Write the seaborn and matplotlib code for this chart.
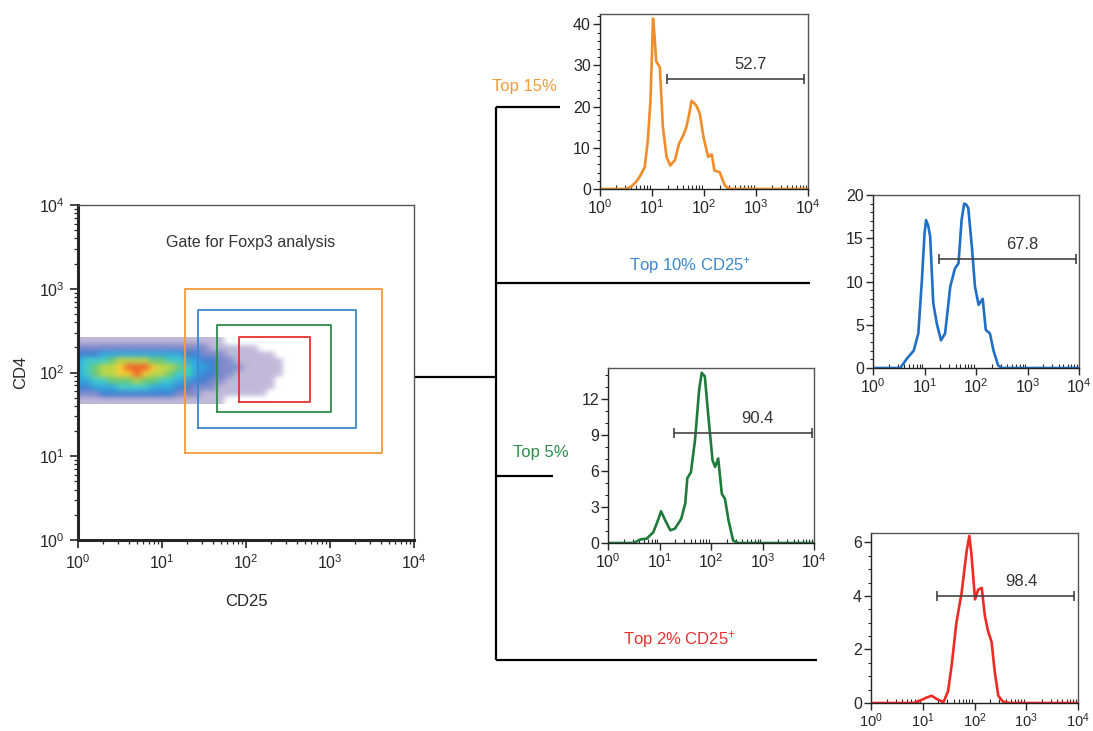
import numpy as np
import matplotlib
matplotlib.use("Agg")
import matplotlib.pyplot as plt
from matplotlib.ticker import LogLocator, AutoMinorLocator, NullFormatter
import seaborn as sns

# --- dot plot (CD25 vs CD4), density levels ---
# rows go from top (log10 CD4 = 2.40) to bottom (1.64), columns log10 CD25 = 0.0 .. 2.5
dot_x_range = (-0.05, 2.55)
dot_y_range = (1.62, 2.42)
dot_density = [
    "11111111111111111100000000",
    "22222222222222221111110000",
    "33344444444443322211111100",
    "45556777766554433221111110",
    "45677899987765443222111110",
    "45677889877655433221111110",
    "44556667665544332211111100",
    "33444555544433222111111100",
    "22233333333322211111111000",
    "11111111111111111100000000",
]

# gates drawn on the dot plot
gate_colors = ["#F39A3C", "#3A86CF", "#2E8B4A", "#E8312F"]
gate_x0 = [19, 27, 45, 82]
gate_x1 = [4200, 2050, 1030, 580]
gate_y0 = [11, 22, 34, 45]
gate_y1 = [1000, 560, 370, 262]

# --- Foxp3 histograms (x in log10 units, y in cell counts) ---
orange_x = [0.0, 0.5, 0.6, 0.7, 0.76, 0.86, 0.92, 0.97, 1.0, 1.02, 1.05, 1.08, 1.15, 1.21, 1.28, 1.35,
            1.44, 1.52, 1.6, 1.66, 1.72, 1.76, 1.8, 1.85, 1.92, 1.99, 2.08, 2.15, 2.2, 2.3, 2.4, 2.46,
            2.55, 4.0]
orange_y = [0, 0, 0.6, 1.8, 2.9, 5.3, 11.8, 21.5, 33, 41.4, 37, 31, 29.6, 15, 7.8, 5.7,
            7, 11, 13, 15, 18.5, 21.4, 21, 20.3, 18.3, 12.6, 7.8, 8.4, 4.5, 4.1, 0.9, 0.2,
            0, 0]

blue_x = [0.0, 0.53, 0.66, 0.79, 0.88, 0.95, 1.0, 1.03, 1.07, 1.11, 1.17, 1.24, 1.32, 1.4, 1.5,
          1.59, 1.66, 1.72, 1.77, 1.81, 1.85, 1.92, 1.98, 2.05, 2.13, 2.19, 2.27, 2.34, 2.43, 2.5, 4.0]
blue_y = [0, 0, 1.1, 2, 4, 10.2, 15.5, 17.1, 16.5, 15.2, 7.5, 5.1, 3.2, 4, 9.4,
          11.5, 12.1, 17.1, 19, 18.9, 18.5, 14, 9.4, 7.3, 8, 4.4, 4, 2, 0.3, 0, 0]

green_x = [0.0, 0.5, 0.63, 0.75, 0.88, 0.97, 1.03, 1.11, 1.21, 1.3, 1.42, 1.5, 1.54, 1.61,
           1.69, 1.77, 1.82, 1.88, 1.95, 2.03, 2.08, 2.14, 2.21, 2.27, 2.34, 2.43, 2.53, 4.0]
green_y = [0, 0, 0.3, 0.36, 0.9, 1.9, 2.65, 1.9, 1.06, 1.2, 2, 3.3, 5.4, 5.9,
           8.6, 12.8, 14.2, 13.9, 10.5, 6.9, 6.35, 7.05, 4.1, 3.7, 1.9, 0.2, 0, 0]

red_x = [0.0, 0.82, 0.95, 1.07, 1.17, 1.27, 1.4, 1.49, 1.56, 1.65, 1.75, 1.85, 1.9, 1.94,
         2.01, 2.07, 2.14, 2.2, 2.26, 2.33, 2.39, 2.46, 2.55, 2.68, 4.0]
red_y = [0, 0, 0.09, 0.2, 0.27, 0.15, 0.03, 0.45, 1.43, 3.0, 4.1, 5.7, 6.24, 5.57,
         3.87, 4.23, 4.3, 3.26, 2.7, 2.28, 1.18, 0.27, 0.05, 0, 0]

# percentage brackets and y axes of each histogram
hist_labels = ["52.7", "67.8", "90.4", "98.4"]
bracket_x0 = [19.5, 19.5, 19.5, 19]
bracket_x1 = [8300, 8700, 9100, 8300]
bracket_y = [26.7, 12.6, 9.2, 3.99]
hist_ymax = [42.5, 20, 14.6, 6.35]
hist_yticks = [[0, 10, 20, 30, 40], [0, 5, 10, 15, 20], [0, 3, 6, 9, 12], [0, 2, 4, 6]]
hist_minor = [5, 5, 3, 4]

sns.set_theme(style="ticks")
plt.rcParams["font.family"] = ["Liberation Sans", "DejaVu Sans"]
plt.rcParams["mathtext.fontset"] = "custom"
plt.rcParams["mathtext.rm"] = "Liberation Sans"
plt.rcParams["mathtext.it"] = "Liberation Sans:italic"
plt.rcParams["mathtext.bf"] = "Liberation Sans:bold"

fig = plt.figure(figsize=(10.93, 7.31), dpi=100)
W, H = 1093, 731


def px_axes(left, top, right, bottom, **kw):
    return fig.add_axes([left / W, 1 - bottom / H, (right - left) / W, (bottom - top) / H], **kw)


# overlay for connector lines and gate labels (pixel coordinates)
ov = fig.add_axes([0, 0, 1, 1], zorder=-1)
ov.set_xlim(0, W)
ov.set_ylim(H, 0)
ov.axis("off")
lk = dict(color="black", lw=1.6, solid_capstyle="butt")
ov.plot([414, 496], [377, 377], **lk)
ov.plot([496, 496], [107, 660], **lk)
ov.plot([496, 560], [107, 107], **lk)
ov.plot([496, 810], [283, 283], **lk)
ov.plot([496, 553], [476, 476], **lk)
ov.plot([496, 817], [660, 660], **lk)
lab = dict(fontsize=12, ha="center", va="center")
ov.text(524, 86, "Top 15%", color=gate_colors[0], **lab)
ov.text(690, 265, "Top 10% CD25$^{+}$", color=gate_colors[1], **lab)
ov.text(541, 453, "Top 5%", color=gate_colors[2], **lab)
ov.text(679, 640, "Top 2% CD25$^{+}$", color=gate_colors[3], **lab)

# ---- dot plot ----
# density layer in log10 units underneath the log-scaled axes
dens = px_axes(78, 205, 414, 540, zorder=1)
dens.set_xlim(0, 4)
dens.set_ylim(0, 4)
dens.axis("off")
level_rgba = np.array([
    (1, 1, 1, 0),
    (0.30, 0.22, 0.58, 0.35),
    (0.18, 0.25, 0.68, 0.6),
    (0.12, 0.42, 0.80, 0.85),
    (0.10, 0.62, 0.86, 0.9),
    (0.18, 0.78, 0.78, 0.9),
    (0.35, 0.76, 0.40, 0.9),
    (0.72, 0.83, 0.22, 0.92),
    (0.98, 0.80, 0.16, 0.95),
    (0.94, 0.35, 0.12, 0.95),
])
levels = np.array([[int(c) for c in row] for row in dot_density])
dens.imshow(level_rgba[levels], extent=(*dot_x_range, *dot_y_range), origin="upper",
            interpolation="gaussian", aspect="auto")

ax = px_axes(78, 205, 414, 540, zorder=2)
ax.patch.set_alpha(0)
ax.set_xscale("log")
ax.set_yscale("log")
ax.set_xlim(1, 1e4)
ax.set_ylim(1, 1e4)

for c, x0, x1, y0, y1 in zip(gate_colors, gate_x0, gate_x1, gate_y0, gate_y1):
    ax.plot([x0, x1, x1, x0, x0], [y0, y0, y1, y1, y0], color=c, lw=1.3, zorder=3)

ax.text(10 ** 2.05, 10 ** 3.55, "Gate for Foxp3 analysis", ha="center", va="center",
        fontsize=11.5, color="#333333")
ax.set_xlabel("CD25", fontsize=12, labelpad=16)
ax.set_ylabel("CD4", fontsize=12, labelpad=8)
for a in (ax.xaxis, ax.yaxis):
    a.set_major_locator(LogLocator(base=10, numticks=10))
    a.set_minor_locator(LogLocator(base=10, subs=np.arange(2, 10), numticks=10))
    a.set_minor_formatter(NullFormatter())
ax.tick_params(which="major", length=6, width=1.2, labelsize=11.5, direction="out")
ax.tick_params(which="minor", length=3, width=0.9, direction="out")
ax.spines["left"].set_linewidth(2.2)
ax.spines["bottom"].set_linewidth(2.2)
for s in ("top", "right"):
    ax.spines[s].set_visible(True)
    ax.spines[s].set_linewidth(1.0)
    ax.spines[s].set_color("#555555")

# ---- histograms ----
hist_boxes = [(600, 14, 808, 189), (873, 195, 1079, 368), (608, 368, 814, 543), (871, 533, 1078, 703)]
hist_x = [orange_x, blue_x, green_x, red_x]
hist_y = [orange_y, blue_y, green_y, red_y]
line_colors = ["#F28C28", "#1F6FC5", "#1E7B3A", "#EE2A24"]

for i, box in enumerate(hist_boxes):
    hx = px_axes(*box)
    sns.lineplot(x=10 ** np.array(hist_x[i]), y=hist_y[i], ax=hx, color=line_colors[i],
                 lw=1.9, estimator=None, sort=False)
    hx.set_xscale("log")
    hx.set_xlim(1, 1e4)
    hx.set_ylim(0, hist_ymax[i])
    hx.set_yticks(hist_yticks[i])
    hx.yaxis.set_minor_locator(AutoMinorLocator(hist_minor[i]))
    hx.xaxis.set_major_locator(LogLocator(base=10, numticks=10))
    hx.xaxis.set_minor_locator(LogLocator(base=10, subs=np.arange(2, 10), numticks=10))
    hx.xaxis.set_minor_formatter(NullFormatter())
    hx.tick_params(which="major", length=5, width=1.0, labelsize=11.5, direction="out", pad=1.5)
    hx.tick_params(axis="y", which="minor", length=2.5, width=0.8, direction="out")
    hx.tick_params(axis="x", which="minor", length=3, width=0.8, direction="in")
    if i == 3:
        hx.tick_params(axis="x", which="major", labelsize=10.5, pad=1)
    for s in hx.spines.values():
        s.set_visible(True)
        s.set_linewidth(1.0)
        s.set_color("#555555")
    hx.spines["left"].set_color("#222222")
    hx.spines["bottom"].set_color("#222222")
    hx.plot([bracket_x0[i], bracket_x1[i]], [bracket_y[i], bracket_y[i]], color="#444444",
            lw=1.2, marker="|", markersize=7, markeredgewidth=1.2)
    hx.text(10 ** 2.9, bracket_y[i] + hist_ymax[i] * 0.04, hist_labels[i], ha="center",
            va="bottom", fontsize=12, color="#333333")
    hx.set_xlabel("")
    hx.set_ylabel("")

fig.savefig("out.png", dpi=100)
